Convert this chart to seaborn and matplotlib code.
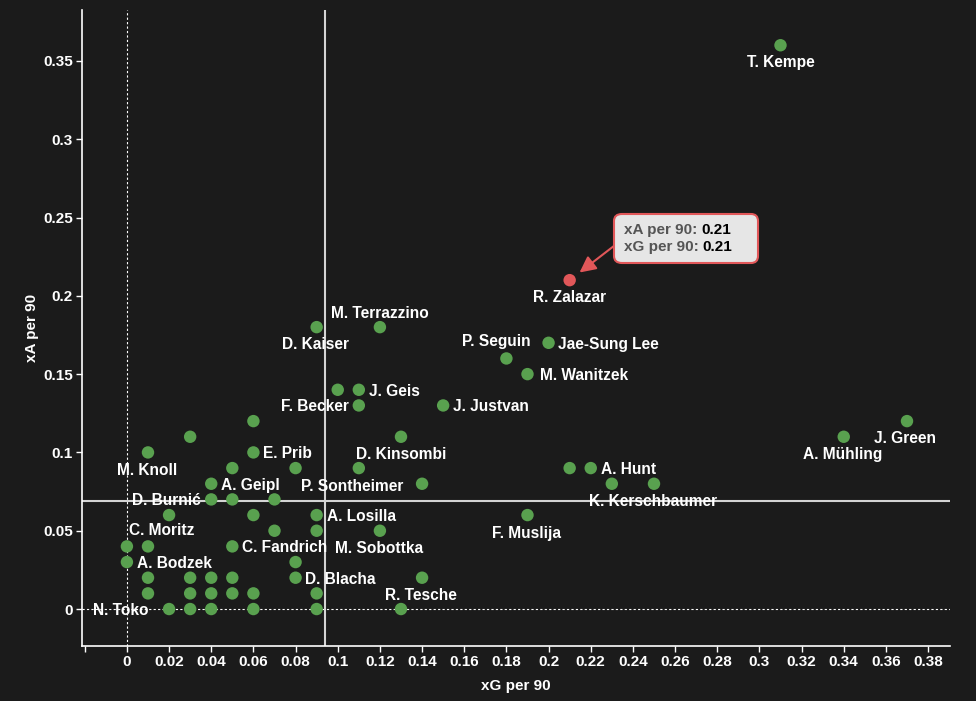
import matplotlib.pyplot as plt
import pandas as pd
import seaborn as sns
from matplotlib.offsetbox import AnnotationBbox, DrawingArea, HPacker, TextArea, VPacker

# named players first, the rest are unlabeled dots
players = [
    "T. Kempe", "R. Zalazar", "M. Terrazzino", "D. Kaiser", "P. Seguin",
    "Jae-Sung Lee", "M. Wanitzek", "J. Geis", "F. Becker", "J. Justvan",
    "D. Kinsombi", "J. Green", "A. Mühling", "M. Knoll", "E. Prib",
    "A. Hunt", "A. Geipl", "P. Sontheimer", "K. Kerschbaumer", "D. Burnić",
    "A. Losilla", "F. Muslija", "C. Moritz", "C. Fandrich", "M. Sobottka",
    "A. Bodzek", "D. Blacha", "R. Tesche", "N. Toko",
] + [""] * 31
xg_per90 = [
    0.31, 0.21, 0.12, 0.09, 0.18, 0.20, 0.19, 0.11, 0.11, 0.15,
    0.13, 0.37, 0.34, 0.01, 0.06, 0.22, 0.04, 0.14, 0.25, 0.04,
    0.09, 0.19, 0.02, 0.05, 0.12, 0.00, 0.08, 0.14, 0.02,
    0.10, 0.06, 0.03, 0.05, 0.08, 0.11, 0.21, 0.23, 0.05, 0.07,
    0.06, 0.07, 0.09, 0.00, 0.01, 0.08, 0.01, 0.03, 0.04, 0.05,
    0.01, 0.03, 0.04, 0.05, 0.06, 0.09, 0.03, 0.04, 0.06, 0.09, 0.13,
]
xa_per90 = [
    0.36, 0.21, 0.18, 0.18, 0.16, 0.17, 0.15, 0.14, 0.13, 0.13,
    0.11, 0.12, 0.11, 0.10, 0.10, 0.09, 0.08, 0.08, 0.08, 0.07,
    0.06, 0.06, 0.06, 0.04, 0.05, 0.03, 0.02, 0.02, 0.00,
    0.14, 0.12, 0.11, 0.09, 0.09, 0.09, 0.09, 0.08, 0.07, 0.07,
    0.06, 0.05, 0.05, 0.04, 0.04, 0.03, 0.02, 0.02, 0.02, 0.02,
    0.01, 0.01, 0.01, 0.01, 0.01, 0.01, 0.00, 0.00, 0.00, 0.00, 0.00,
]
highlight = "R. Zalazar"
xg_avg = 0.094
xa_avg = 0.069

x_ticks = [-0.02] + [i / 100 for i in range(0, 40, 2)]
x_tick_labels = [""] + ["0", "0.02", "0.04", "0.06", "0.08", "0.1", "0.12", "0.14",
                        "0.16", "0.18", "0.2", "0.22", "0.24", "0.26", "0.28", "0.3",
                        "0.32", "0.34", "0.36", "0.38"]
y_ticks = [0, 0.05, 0.1, 0.15, 0.2, 0.25, 0.3, 0.35]
y_tick_labels = ["0", "0.05", "0.1", "0.15", "0.2", "0.25", "0.3", "0.35"]

# label offsets in pixels (dx, dy downwards, alignment)
label_offsets = {
    "T. Kempe": (0, 16, "center"), "R. Zalazar": (0, 16, "center"),
    "M. Terrazzino": (0, -15, "center"), "D. Kaiser": (-1, 16, "center"),
    "P. Seguin": (-10, -18, "center"), "Jae-Sung Lee": (9, 0, "left"),
    "M. Wanitzek": (13, 0, "left"), "J. Geis": (10, 0, "left"),
    "F. Becker": (-10, 0, "right"), "J. Justvan": (10, 0, "left"),
    "D. Kinsombi": (0, 16, "center"), "J. Green": (-2, 16, "center"),
    "A. Mühling": (-1, 16, "center"), "M. Knoll": (-1, 17, "center"),
    "E. Prib": (10, 0, "left"), "A. Hunt": (10, 0, "left"),
    "A. Geipl": (10, 0, "left"), "P. Sontheimer": (-19, 1, "right"),
    "K. Kerschbaumer": (-1, 16, "center"), "D. Burnić": (-10, 0, "right"),
    "A. Losilla": (10, 0, "left"), "F. Muslija": (-1, 17, "center"),
    "C. Moritz": (-7, 14, "center"), "C. Fandrich": (10, 0, "left"),
    "M. Sobottka": (-1, 16, "center"), "A. Bodzek": (10, 0, "left"),
    "D. Blacha": (9, 0, "left"), "R. Tesche": (-1, 16, "center"),
    "N. Toko": (-21, 0, "right"),
}

bg = "#1b1b1b"
green = "#59a14f"
red = "#e15759"

sns.set_style("dark", {"axes.facecolor": bg, "figure.facecolor": bg})
plt.rcParams["font.family"] = ["Liberation Sans", "DejaVu Sans"]
plt.rcParams["font.weight"] = "bold"

df = pd.DataFrame({"player": players, "xG": xg_per90, "xA": xa_per90})
df["group"] = ["hl" if p == highlight else "base" for p in df["player"]]

fig = plt.figure(figsize=(9.76, 7.01), dpi=100)
ax = fig.add_axes([82 / 976, 55 / 701, 868 / 976, 636 / 701])

ax.axvline(0, color="white", lw=0.8, ls=(0, (2, 2)), zorder=1)
ax.axhline(0, color="white", lw=0.8, ls=(0, (2, 2)), zorder=1)
ax.axvline(xg_avg, color="#d4d4d4", lw=1.5, zorder=1)
ax.axhline(xa_avg, color="#d4d4d4", lw=1.5, zorder=1)

sns.scatterplot(data=df, x="xG", y="xA", hue="group",
                palette={"base": green, "hl": red}, s=80, linewidth=0,
                legend=False, ax=ax, zorder=3)

px = 0.72
for _, row in df[df["player"] != ""].iterrows():
    dx, dy, ha = label_offsets[row["player"]]
    ax.annotate(row["player"], (row["xG"], row["xA"]), xytext=(dx * px, -dy * px),
                textcoords="offset points", ha=ha, va="center_baseline",
                color="white", fontsize=11.2, fontweight="bold", zorder=4)

# tooltip on the highlighted player
hl = df[df["player"] == highlight].iloc[0]
lab_kw = dict(color="#555555", fontsize=11, fontweight="bold")
val_kw = dict(color="black", fontsize=11, fontweight="bold")
line1 = HPacker(children=[TextArea("xA per 90: ", textprops=lab_kw),
                          TextArea(f"{hl['xA']:.2f}", textprops=val_kw)], pad=0, sep=0)
line2 = HPacker(children=[TextArea("xG per 90: ", textprops=lab_kw),
                          TextArea(f"{hl['xG']:.2f}", textprops=val_kw)], pad=0, sep=0)
lines = VPacker(children=[line1, line2], align="left", pad=0, sep=2.5)
content = HPacker(children=[lines, DrawingArea(12, 1)], pad=0, sep=0)
ab = AnnotationBbox(content, (hl["xG"], hl["xA"]), xybox=(84, 30),
                    xycoords="data", boxcoords="offset points", fontsize=11,
                    bboxprops=dict(boxstyle="round,pad=0.6,rounding_size=0.5",
                                   fc="#e6e6e6", ec=red, lw=1.5),
                    arrowprops=dict(arrowstyle="-|>,head_length=0.5,head_width=0.25",
                                    color=red, lw=1.5, shrinkA=0, shrinkB=9,
                                    mutation_scale=14, relpos=(0, 0.5)),
                    zorder=5)
ax.add_artist(ab)

ax.set_xlim(-0.0213, 0.3904)
ax.set_ylim(-0.0236, 0.3825)
ax.set_xticks(x_ticks)
ax.set_xticklabels(x_tick_labels)
ax.set_yticks(y_ticks)
ax.set_yticklabels(y_tick_labels)
ax.tick_params(colors="white", length=4, width=1, pad=2.5, labelsize=11, bottom=True, left=True)
for t in ax.get_xticklabels() + ax.get_yticklabels():
    t.set_fontweight("bold")
ax.grid(False)
for side in ["top", "right"]:
    ax.spines[side].set_visible(False)
for side in ["left", "bottom"]:
    ax.spines[side].set_visible(True)
    ax.spines[side].set_color("white")
    ax.spines[side].set_linewidth(1.2)

ax.set_xlabel("xG per 90", color="white", fontsize=11, fontweight="bold", labelpad=7)
ax.set_ylabel("xA per 90", color="white", fontsize=11, fontweight="bold", labelpad=3)

fig.savefig("out.png", dpi=100, facecolor=bg)
